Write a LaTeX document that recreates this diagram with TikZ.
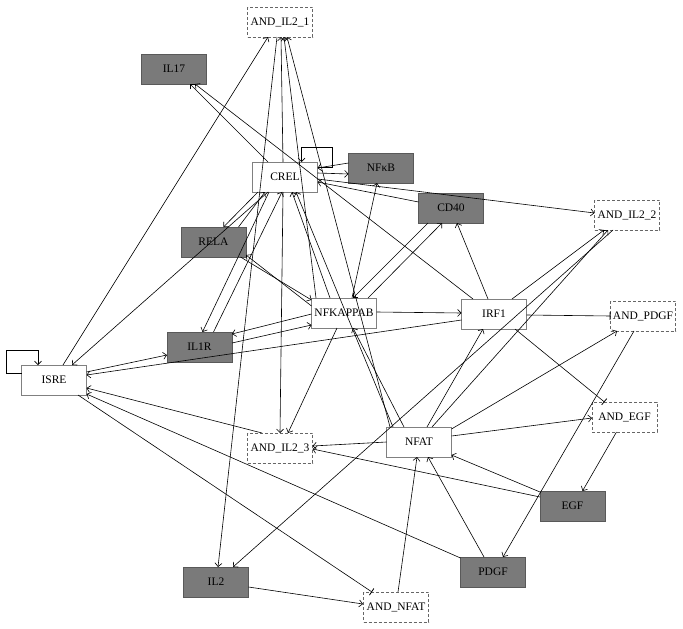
\documentclass[tikz,border=0pt]{standalone}
\usepackage{fontspec}
\setmainfont{Liberation Serif}
\usetikzlibrary{arrows.meta}
\begin{document}
\begin{tikzpicture}[x=1pt,y=-1pt,
  box/.style={draw=black!50,line width=0.9pt,minimum width=65pt,minimum height=30pt,inner sep=0pt,font=\fontsize{11.5}{13}\selectfont,fill=white},
  gene/.style={box,fill=black!52,draw=black!65},
  gate/.style={box,dash pattern=on 3pt off 2pt,draw=black!60},
  act/.style={draw=black,line width=0.6pt,-{Straight Barb[length=3.5pt,width=7pt]}},
  inh/.style={draw=black,line width=0.6pt,-{Bar[width=8pt,line width=0.8pt]}}]
\fill[white] (0,0) rectangle (683,629);
\useasboundingbox (0,0) rectangle (683,629);
% nodes
\node[gate] (andA) at (280,22) {AND\_IL2\_1};
\node[gene] (il17) at (174,69) {IL17};
\node[box] (crel) at (285,177) {CREL};
\node[gene] (nfkb) at (381,168) {NFκB};
\node[gene] (cd) at (451,208) {CD40};
\node[gate] (andB) at (627,215) {AND\_IL2\_2};
\node[gene] (rela) at (213.5,242) {RELA};
\node[box] (nfkappab) at (344,313) {NFKAPPAB};
\node[box] (irf) at (494,314) {IRF1};
\node[gate] (andP) at (643,316) {AND\_PDGF};
\node[gene] (ilr) at (199.5,347) {IL1R};
\node[box] (isre) at (54,380) {ISRE};
\node[gate] (andC) at (280,448) {AND\_IL2\_3};
\node[box] (nfat) at (419,442) {NFAT};
\node[gate] (andE) at (624.5,417) {AND\_EGF};
\node[gene] (egf) at (572.5,506) {EGF};
\node[gene] (il2) at (216,582) {IL2};
\node[gene] (pdgf) at (493,572) {PDGF};
\node[gate] (andN) at (396,607) {AND\_NFAT};
% edges
\draw[act] ([shift={(9,-15)}]isre.center) -- ([shift={(-12,15)}]andA.center);
\draw[act] ([shift={(-17,15)}]crel.center) -- ([shift={(18,-15)}]isre.center);
\draw[act] ([shift={(-17,-15)}]crel.center) -- ([shift={(16,15)}]il17.center);
\draw[act] ([shift={(-21,-15)}]irf.center) -- ([shift={(21,15)}]il17.center);
\draw[act] ([shift={(-32.5,-5)}]nfkb.center) -- ([shift={(32.5,-9)}]crel.center);
\draw[act] ([shift={(32.5,-4)}]crel.center) -- ([shift={(-32.5,6)}]nfkb.center);
\draw[act] ([shift={(32.5,-10)}]crel.center) -- ++(15,0) -- ++(0,-20) -- ++(-31,0) -- ++(0,15);
\draw[act] ([shift={(-32.5,-6)}]cd.center) -- ([shift={(32.5,5)}]crel.center);
\draw[act] ([shift={(32.5,2)}]crel.center) -- ([shift={(-32.5,-2)}]andB.center);
\draw[act] ([shift={(-27,15)}]crel.center) -- ([shift={(10,-15)}]rela.center);
\draw[act] ([shift={(25,-15)}]rela.center) -- ([shift={(-20,15)}]crel.center);
\draw[act] ([shift={(-16,15)}]crel.center) -- ([shift={(3,-15)}]ilr.center);
\draw[act] ([shift={(14,-15)}]ilr.center) -- ([shift={(-3,15)}]crel.center);
\draw[act] ([shift={(-2,-15)}]crel.center) -- ([shift={(1,15)}]andA.center);
\draw[act] ([shift={(-2,15)}]crel.center) -- ([shift={(0,-15)}]andC.center);
\draw[act] ([shift={(-3,15)}]andA.center) -- ([shift={(2,-15)}]il2.center);
\draw[act] ([shift={(-28,-15)}]nfkappab.center) -- ([shift={(4,15)}]andA.center);
\draw[act] ([shift={(-29,-15)}]nfat.center) -- ([shift={(7,15)}]andA.center);
\draw[act] ([shift={(-26,-15)}]nfat.center) -- ([shift={(11,15)}]crel.center);
\draw[act] ([shift={(-14,-15)}]nfkappab.center) -- ([shift={(7,15)}]crel.center);
\draw[act] ([shift={(8,-15)}]nfkappab.center) -- ([shift={(-4,15)}]nfkb.center);
\draw[act] ([shift={(-23,15)}]cd.center) -- ([shift={(9,-15)}]nfkappab.center);
\draw[act] ([shift={(24,-15)}]nfkappab.center) -- ([shift={(-9,15)}]cd.center);
\draw[act] ([shift={(-6,-15)}]irf.center) -- ([shift={(6,15)}]cd.center);
\draw[act] ([shift={(27,15)}]rela.center) -- ([shift={(-32.5,-13)}]nfkappab.center);
\draw[act] ([shift={(-32.5,-7)}]nfkappab.center) -- ([shift={(32.5,13)}]rela.center);
\draw[act] ([shift={(-32.5,1)}]nfkappab.center) -- ([shift={(32.5,-13)}]ilr.center);
\draw[act] ([shift={(32.5,-4)}]ilr.center) -- ([shift={(-32.5,12)}]nfkappab.center);
\draw[act] ([shift={(32.5,-8)}]isre.center) -- ([shift={(-32.5,8)}]ilr.center);
\draw[act] ([shift={(-32.5,6)}]irf.center) -- ([shift={(32.5,-5)}]isre.center);
\draw[act] ([shift={(32.5,-1)}]nfkappab.center) -- ([shift={(-32.5,-1)}]irf.center);
\draw[inh] ([shift={(32.5,1)}]irf.center) -- ([shift={(-32.5,0)}]andP.center);
\draw[inh] ([shift={(21,15)}]irf.center) -- ([shift={(-20,-15)}]andE.center);
\draw[act] ([shift={(18,-15)}]irf.center) -- ([shift={(-23,15)}]andB.center);
\draw[act] ([shift={(13,-15)}]nfat.center) -- ([shift={(-19,15)}]andB.center);
\draw[act] ([shift={(-14,15)}]andB.center) -- ([shift={(17,-15)}]il2.center);
\draw[act] ([shift={(32.5,-13)}]nfat.center) -- ([shift={(-26,15)}]andP.center);
\draw[act] ([shift={(8,-15)}]nfat.center) -- ([shift={(-11,15)}]irf.center);
\draw[act] ([shift={(-15,-15)}]nfat.center) -- ([shift={(9,15)}]nfkappab.center);
\draw[act] ([shift={(-7,15)}]nfkappab.center) -- ([shift={(8,-15)}]andC.center);
\draw[act] ([shift={(-32.5,0)}]nfat.center) -- ([shift={(32.5,-2)}]andC.center);
\draw[act] ([shift={(-32.5,-9)}]egf.center) -- ([shift={(32.5,1)}]andC.center);
\draw[act] ([shift={(-32.5,-14)}]egf.center) -- ([shift={(32.5,13)}]nfat.center);
\draw[act] ([shift={(32.5,-6)}]nfat.center) -- ([shift={(-32.5,1)}]andE.center);
\draw[act] ([shift={(-9,15)}]andP.center) -- ([shift={(10,-15)}]pdgf.center);
\draw[act] ([shift={(-8,15)}]andE.center) -- ([shift={(10,-15)}]egf.center);
\draw[act] ([shift={(-9,-15)}]pdgf.center) -- ([shift={(9,15)}]nfat.center);
\draw[act] ([shift={(2,-15)}]andN.center) -- ([shift={(-2,15)}]nfat.center);
\draw[act] ([shift={(32.5,5)}]il2.center) -- ([shift={(-33,-3)}]andN.center);
\draw[inh] ([shift={(24,15)}]isre.center) -- ([shift={(-24,-15)}]andN.center);
\draw[act] ([shift={(-18,-15)}]andC.center) -- ([shift={(32.5,8)}]isre.center);
\draw[act] ([shift={(-32.5,-14)}]pdgf.center) -- ([shift={(32.5,14)}]isre.center);
\draw[act] ([shift={(-32.5,-7)}]isre.center) -- ++(-15,0) -- ++(0,-23) -- ++(31.5,0) -- ++(0,15);
\end{tikzpicture}
\end{document}
